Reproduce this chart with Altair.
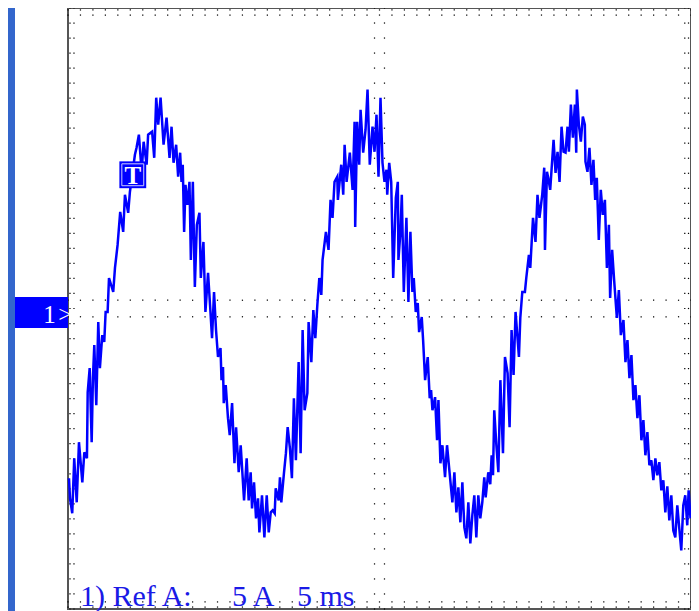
import altair as alt
import pandas as pd

# Trace: time (ms) and current (A), 5 ms/div, 5 A/div
t_ms = [
    0.08, 0.16, 0.34, 0.50, 0.70, 0.88, 1.15, 1.31, 1.52, 1.58,
    1.74, 1.90, 2.00, 2.11, 2.27, 2.43, 2.56, 2.75, 2.91, 3.02,
    3.18, 3.29, 3.63, 3.77, 3.98, 4.19, 4.43, 4.57, 4.83, 4.97,
    5.37, 5.50, 5.69, 5.91, 6.07, 6.31, 6.43, 6.75, 6.92, 7.08,
    7.24, 7.43, 7.67, 7.91, 8.15, 8.31, 8.47, 8.68, 8.84, 9.00,
    9.11, 9.21, 9.32, 9.43, 9.59, 9.75, 9.86, 10.02, 10.18, 10.34,
    10.55, 10.66, 10.87, 11.03, 11.24, 11.40, 11.56, 11.72, 11.88, 12.04,
    12.24, 12.32, 12.44, 12.50, 12.66, 12.84, 12.98, 13.17, 13.36, 13.49,
    13.70, 13.86, 14.13, 14.34, 14.50, 14.66, 14.77, 14.93, 15.09, 15.25,
    15.36, 15.57, 15.76, 15.95, 16.11, 16.27, 16.43, 16.59, 16.67, 16.91,
    17.01, 17.12, 17.33, 17.49, 17.63, 17.81, 17.97, 18.13, 18.29, 18.51,
    18.67, 18.83, 18.99, 19.21, 19.31, 19.53, 19.69, 19.85, 20.01, 20.17,
    20.33, 20.43, 20.70, 20.91, 21.07, 21.23, 21.39, 21.61, 21.66, 21.93,
    22.09, 22.20, 22.36, 22.62, 22.84, 23.00, 23.05, 23.21, 23.37, 23.48,
    23.69, 23.88, 24.04, 24.22, 24.44, 24.60, 24.76, 24.92, 25.08, 25.24,
    25.40, 25.56, 25.62, 25.78, 25.94, 26.10, 26.31, 26.47, 26.52, 26.68,
    26.79, 26.95, 27.16, 27.32, 27.48, 27.64, 27.75, 27.91, 28.07, 28.18,
    28.39, 28.50, 28.66, 28.87, 29.03, 29.14, 29.25, 29.46, 29.62, 29.73,
    29.89, 30.05, 30.26, 30.42, 30.63, 30.85, 31.01, 31.17, 31.33, 31.49,
    31.65, 31.81, 31.97, 32.13, 32.29, 32.45, 32.61, 32.77, 32.93, 33.09,
    33.25, 33.41, 33.52, 33.73, 33.89, 34.00, 34.11, 34.21, 34.38, 34.54,
    34.70, 34.91, 35.07, 35.28, 35.44, 35.60, 35.76, 35.92, 36.19, 36.30,
    36.46, 36.67, 36.78, 36.99, 37.10, 37.32, 37.52, 37.68, 37.84, 38.06,
    38.22, 38.28, 38.44, 38.54, 38.70, 38.97, 39.13, 39.29, 39.45, 39.61,
    39.77, 39.93, 40.09, 40.20, 40.36, 40.52, 40.68, 40.79, 40.84, 41.00,
    41.16, 41.32, 41.48, 41.53, 41.69, 41.85, 42.01, 42.17, 42.31, 42.44,
    42.60, 42.76, 42.92, 43.09, 43.25, 43.41, 43.51, 43.67, 43.83, 44.05,
    44.21, 44.37, 44.58, 44.74, 44.90, 45.06, 45.22, 45.38, 45.54, 45.70,
    45.86, 46.02, 46.18, 46.34, 46.50, 46.66, 46.82, 46.98, 47.14, 47.30,
    47.46, 47.62, 47.78, 47.94, 48.10, 48.26, 48.42, 48.58, 48.74, 48.90,
    49.06, 49.22, 49.38, 49.54, 49.70, 49.81, 49.96,
]
i_amp = [
    -11.30, -12.63, -13.63, -9.97, -12.90, -8.90, -11.57, -9.57, -9.97, -5.57,
    -3.97, -8.90, -4.63, -2.43, -6.43, -0.90, -3.97, -1.77, -2.23, -0.23,
    -0.23, 2.03, 1.10, 2.70, 4.23, 6.43, 5.10, 7.57, 6.37, 7.77,
    10.23, 10.70, 11.57, 9.10, 11.10, 9.57, 11.57, 11.77, 10.03, 14.03,
    12.23, 14.03, 10.90, 12.70, 10.03, 12.10, 9.70, 10.90, 8.77, 10.37,
    8.43, 9.57, 5.10, 8.23, 6.90, 8.43, 3.23, 8.43, 1.43, 5.57,
    6.37, 2.03, 4.43, -0.23, 2.37, 0.23, -1.97, 1.10, -1.43, -3.23,
    -2.63, -4.77, -3.90, -6.30, -5.10, -7.30, -8.43, -6.30, -10.30, -7.90,
    -10.90, -9.10, -12.77, -9.97, -12.77, -10.90, -13.30, -11.57, -13.97, -12.63,
    -14.90, -12.43, -15.23, -12.43, -14.90, -13.57, -13.43, -13.63, -11.97, -12.77,
    -11.23, -12.90, -10.97, -9.63, -7.90, -9.30, -11.30, -5.97, -10.10, -3.57,
    -9.63, -1.43, -6.77, -5.63, -0.90, -3.57, -0.10, -1.97, 0.23, 2.03,
    0.90, 3.23, 5.10, 3.90, 7.23, 6.03, 8.43, 8.77, 7.23, 9.57,
    7.57, 10.90, 8.43, 10.37, 7.90, 12.43, 5.43, 12.43, 9.57, 13.23,
    10.37, 11.90, 14.57, 9.57, 12.10, 10.43, 12.90, 8.77, 14.03, 9.70,
    8.43, 9.23, 7.57, 9.70, 8.43, 2.03, 7.37, 8.43, 3.23, 5.10,
    7.57, 1.10, 6.03, 0.43, 5.10, 1.10, 2.03, -0.23, 0.37, -1.57,
    -0.57, -2.10, -4.77, -3.23, -5.97, -5.43, -6.77, -5.90, -8.77, -6.10,
    -10.30, -9.10, -11.23, -9.10, -10.97, -12.90, -10.90, -13.57, -11.90, -14.23,
    -11.57, -14.57, -15.30, -12.90, -15.63, -13.77, -12.43, -15.23, -12.43, -13.97,
    -12.90, -11.23, -12.57, -10.90, -11.70, -9.77, -11.10, -6.77, -9.10, -10.90,
    -4.77, -9.63, -3.23, -4.30, -7.90, -1.43, -4.43, -0.23, -3.23, -0.63,
    1.10, 1.10, 2.03, 3.57, 2.70, 6.03, 4.43, 7.57, 6.03, 7.57,
    9.37, 3.90, 9.10, 8.70, 7.90, 11.23, 9.03, 10.43, 8.43, 12.10,
    10.43, 10.37, 12.10, 10.43, 13.57, 11.37, 13.57, 10.37, 14.57, 12.23,
    11.10, 12.77, 12.23, 9.77, 9.10, 10.70, 8.23, 9.90, 7.23, 8.70,
    4.57, 7.90, 6.23, 7.23, 2.70, 5.57, 0.70, 3.90, 1.90, -0.63,
    1.23, -1.77, -0.77, -3.57, -2.10, -4.63, -3.10, -6.10, -5.10, -7.30,
    -5.77, -8.77, -7.43, -9.77, -8.23, -10.43, -10.10, -11.43, -9.97, -11.10,
    -10.23, -12.10, -11.43, -13.57, -11.83, -14.10, -12.43, -14.77, -15.23, -13.10,
    -14.63, -16.10, -13.10, -12.43, -14.43, -12.10, -13.97,
]

trig_t = [5.2]
trig_i = [8.9]

major_t = [5, 10, 15, 20, 25, 30, 35, 40, 45]
major_i = [-15, -10, -5, 0, 5, 10, 15]
minor_t = list(range(0, 51))
minor_i = list(range(-20, 21))

label_main = "1) Ref A:"
label_volts = "5 A"
label_time = "5 ms"

W, H = 623, 601
BLUE = "#0000ff"

df = pd.DataFrame({"t": t_ms, "i": i_amp})
trig_df = pd.DataFrame({"t": trig_t, "i": trig_i})

# graticule minor ticks (edges and centre cross)
gt, gi = [], []
for t in minor_t:
    for v in (19.87, 19.53, -19.53, -19.87, 0.55, -0.55):
        gt.append(t)
        gi.append(v)
for v in minor_i:
    for t in (0.16, 0.48, 49.5, 49.8, 24.6, 25.4):
        gt.append(t)
        gi.append(v)
grat_df = pd.DataFrame({"t": gt, "i": gi})

one = pd.DataFrame({"a": [0]})

xs = alt.Scale(domain=[0, 50], nice=False, zero=False)
ys = alt.Scale(domain=[-20, 20], nice=False, zero=False)

x_axis = alt.Axis(values=major_t, grid=True, gridColor="#000000", gridDash=[1, 14.025],
                  gridWidth=1, gridOpacity=1, labels=False, ticks=False, domain=False, title=None)
y_axis = alt.Axis(values=major_i, grid=True, gridColor="#000000", gridDash=[1, 11.46],
                  gridWidth=1, gridOpacity=1, labels=False, ticks=False, domain=False, title=None)

trace = alt.Chart(df).mark_line(color=BLUE, strokeWidth=2.5).encode(
    x=alt.X("t:Q", scale=xs, axis=x_axis),
    y=alt.Y("i:Q", scale=ys, axis=y_axis),
)

grat = alt.Chart(grat_df).mark_square(size=1.5, color="#000000", opacity=1).encode(
    x=alt.X("t:Q", scale=xs, axis=None),
    y=alt.Y("i:Q", scale=ys, axis=None),
)

stripe = alt.Chart(one).mark_rect(color="#3366cc").encode(
    x=alt.value(-61), x2=alt.value(-53), y=alt.value(-2), y2=alt.value(H + 10)
)

ch_box = alt.Chart(one).mark_rect(color=BLUE).encode(
    x=alt.value(-53), x2=alt.value(0), y=alt.value(289), y2=alt.value(320)
)
ch_one = alt.Chart(one).mark_text(text="1", color="white", font="Liberation Serif",
                                  fontSize=25, align="center", baseline="alphabetic").encode(
    x=alt.value(-18.5), y=alt.value(315)
)
ch_arrow = alt.Chart(one).mark_text(text=">", color="white", font="Liberation Serif",
                                    fontSize=24, align="center", baseline="alphabetic").encode(
    x=alt.value(-3), y=alt.value(314)
)

trig_sq = alt.Chart(trig_df).mark_square(size=720, color=BLUE, opacity=1).encode(
    x=alt.X("t:Q", scale=xs, axis=None), y=alt.Y("i:Q", scale=ys, axis=None)
)
trig_in = alt.Chart(trig_df).mark_square(size=480, filled=False, stroke="white",
                                         strokeWidth=1, opacity=0.8).encode(
    x=alt.X("t:Q", scale=xs, axis=None), y=alt.Y("i:Q", scale=ys, axis=None)
)
trig_txt = alt.Chart(trig_df).mark_text(text="T", color="white", font="Liberation Serif",
                                        fontSize=25, fontWeight="bold", align="center",
                                        baseline="alphabetic", dy=9).encode(
    x=alt.X("t:Q", scale=xs, axis=None), y=alt.Y("i:Q", scale=ys, axis=None)
)

def label(txt, x):
    return alt.Chart(one).mark_text(text=txt, color="#1a1ae6", font="Liberation Serif",
                                    fontSize=30, align="left", baseline="alphabetic").encode(
        x=alt.value(x), y=alt.value(598)
    )

chart = alt.layer(
    stripe, grat, trace, ch_box, ch_one, ch_arrow,
    trig_sq, trig_in, trig_txt,
    label(label_main, 12), label(label_volts, 164), label(label_time, 229),
).properties(
    width=W, height=H,
    autosize=alt.AutoSizeParams(type="none"),
    padding={"left": 60, "top": 0, "right": 0, "bottom": 2},
).configure_view(stroke="#555555", strokeWidth=2)

chart.save("out.html", embed_options={"renderer": "svg", "actions": False})
